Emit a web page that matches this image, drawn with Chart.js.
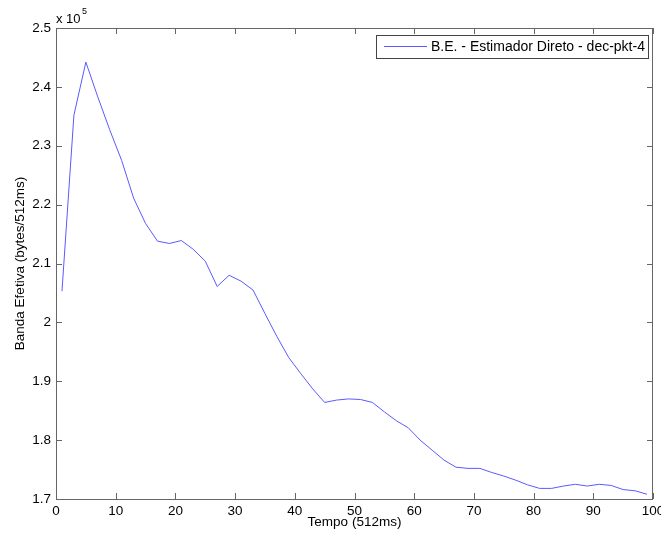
<!DOCTYPE html>
<html>
<head>
<meta charset="utf-8">
<script src="https://cdn.jsdelivr.net/npm/chart.js@4/dist/chart.umd.min.js"></script>
<style>
  html, body { margin: 0; padding: 0; background: #fff; }
  #wrap { width: 661px; height: 541px; }
</style>
</head>
<body>
<div id="wrap"><canvas id="c" width="661" height="541"></canvas></div>
<script>
// Sample instants (units of 512 ms)
const tempo = [1, 3, 5, 7, 9, 11, 13, 15, 17, 19, 21, 23, 25, 27, 29, 31, 33, 35, 37, 39,
               41, 43, 45, 47, 49, 51, 53, 55, 57, 59, 61, 63, 65, 67, 69, 71, 73, 75, 77, 79,
               81, 83, 85, 87, 89, 91, 93, 95, 97, 99];
// Effective bandwidth, bytes per 512 ms
const bandaEfetiva = [205300, 235200, 244200, 238300, 232700, 227500, 221100, 216800, 213800, 213400,
                      213900, 212400, 210400, 206100, 208000, 207000, 205500, 201500, 197600, 194000,
                      191300, 188700, 186400, 186800, 187000, 186900, 186400, 184800, 183300, 182100,
                      180000, 178300, 176600, 175400, 175200, 175200, 174500, 173900, 173200, 172400,
                      171800, 171800, 172200, 172500, 172200, 172500, 172300, 171600, 171400, 170800];
const xTicks = [0, 10, 20, 30, 40, 50, 60, 70, 80, 90, 100];
const yTicks = [170000, 180000, 190000, 200000, 210000, 220000, 230000, 240000, 250000];
const seriesLabel = 'B.E. - Estimador Direto - dec-pkt-4';

const FONT = '"Liberation Sans", Arial, sans-serif';
const AXIS = '#666666';

// Boxed axes with inward ticks, axis titles, exponent note and legend
const decor = {
  id: 'decor',
  afterDraw(chart) {
    const ctx = chart.ctx;
    const a = chart.chartArea;
    const xs = chart.scales.x, ys = chart.scales.y;
    ctx.save();
    ctx.strokeStyle = AXIS;
    ctx.lineWidth = 1;
    ctx.strokeRect(Math.round(a.left) + 0.5, Math.round(a.top) + 0.5,
                   Math.round(a.right - a.left) - 1, Math.round(a.bottom - a.top));
    const tl = 6;
    ctx.beginPath();
    xTicks.forEach(v => {
      const px = Math.round(xs.getPixelForValue(v)) + 0.5;
      ctx.moveTo(px, a.bottom); ctx.lineTo(px, a.bottom - tl);
      ctx.moveTo(px, a.top); ctx.lineTo(px, a.top + tl);
    });
    yTicks.forEach(v => {
      const py = Math.round(ys.getPixelForValue(v)) + 0.5;
      ctx.moveTo(a.left, py); ctx.lineTo(a.left + tl, py);
      ctx.moveTo(a.right, py); ctx.lineTo(a.right - tl, py);
    });
    ctx.stroke();

    ctx.fillStyle = '#000';
    // x axis title
    ctx.font = '13.5px ' + FONT;
    ctx.textAlign = 'center';
    ctx.textBaseline = 'middle';
    ctx.fillText('Tempo (512ms)', (a.left + a.right) / 2, 522);
    // y axis title
    ctx.save();
    ctx.translate(20, (a.top + a.bottom) / 2);
    ctx.rotate(-Math.PI / 2);
    ctx.fillText('Banda Efetiva (bytes/512ms)', 0, 0);
    ctx.restore();
    // exponent note
    ctx.textAlign = 'left';
    ctx.textBaseline = 'alphabetic';
    ctx.font = '13px ' + FONT;
    ctx.fillText('x 10', 56, 23);
    ctx.font = '9px ' + FONT;
    ctx.fillText('5', 82, 14);

    // legend
    const bx = 376.5, by = 35.5, bw = 272, bh = 23;
    ctx.fillStyle = '#fff';
    ctx.fillRect(bx, by, bw, bh);
    ctx.strokeStyle = '#444';
    ctx.strokeRect(bx, by, bw, bh);
    ctx.strokeStyle = chart.data.datasets[0].borderColor;
    ctx.beginPath();
    ctx.moveTo(384, 46.5); ctx.lineTo(427, 46.5);
    ctx.stroke();
    ctx.fillStyle = '#000';
    ctx.font = '14px ' + FONT;
    ctx.textBaseline = 'middle';
    ctx.fillText(chart.data.datasets[0].label, 431, 47);
    ctx.restore();
  }
};

new Chart(document.getElementById('c'), {
  type: 'line',
  data: {
    datasets: [{
      label: seriesLabel,
      data: tempo.map((t, i) => ({ x: t, y: bandaEfetiva[i] })),
      borderColor: 'rgb(90, 90, 255)',
      borderWidth: 1,
      pointRadius: 0,
      tension: 0,
      fill: false
    }]
  },
  options: {
    responsive: false,
    animation: false,
    devicePixelRatio: 1,
    layout: { padding: { top: 28, right: 8, left: 0, bottom: 0 } },
    plugins: { legend: { display: false }, tooltip: { enabled: false } },
    scales: {
      x: {
        type: 'linear', min: 0, max: 100,
        afterBuildTicks: s => { s.ticks = xTicks.map(v => ({ value: v })); },
        afterFit: s => { s.height = 42; s.paddingLeft = 0; s.paddingRight = 0; },
        grid: { display: false, drawTicks: false },
        border: { display: false },
        ticks: { padding: 4, color: '#000', font: { family: FONT, size: 13.5 }, maxRotation: 0 }
      },
      y: {
        type: 'linear', min: 170000, max: 250000,
        afterBuildTicks: s => { s.ticks = yTicks.map(v => ({ value: v })); },
        afterFit: s => { s.width = 56; s.paddingTop = 0; s.paddingBottom = 0; },
        grid: { display: false, drawTicks: false },
        border: { display: false },
        ticks: {
          padding: 5, color: '#000', font: { family: FONT, size: 13.5 },
          callback: v => String(Number((v / 1e5).toFixed(2)))
        }
      }
    }
  },
  plugins: [decor]
});
</script>
</body>
</html>
